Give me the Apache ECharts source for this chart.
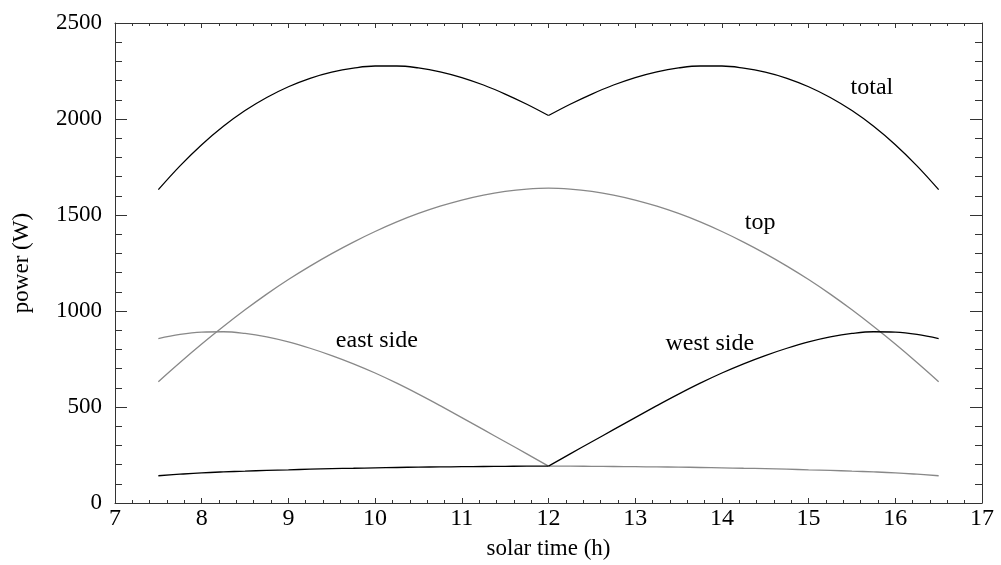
<!DOCTYPE html>
<html>
<head>
<meta charset="utf-8">
<script src="https://cdn.jsdelivr.net/npm/echarts@6/dist/echarts.min.js"></script>
<style>
	html, body { margin: 0; padding: 0; background: #fff; }
	#main { width: 1001px; height: 565px; }
</style>
</head>
<body>
<div id="main"></div>
<script>
// solar time (h)
var hours = [7.5, 7.75, 8, 8.25, 8.5, 8.75, 9, 9.25, 9.5, 9.75, 10, 10.25, 10.5, 10.75, 11, 11.25, 11.5, 11.75, 12,
	12.25, 12.5, 12.75, 13, 13.25, 13.5, 13.75, 14, 14.25, 14.5, 14.75, 15, 15.25, 15.5, 15.75, 16, 16.25, 16.5];

// power (W)
var totalPower = [1632, 1756, 1866, 1962, 2044, 2112, 2168, 2212, 2244, 2265, 2276, 2276, 2266, 2246, 2216, 2177, 2130, 2077, 2018,
	2077, 2130, 2177, 2216, 2246, 2266, 2276, 2276, 2265, 2244, 2212, 2168, 2112, 2044, 1962, 1866, 1756, 1632];
var topPower = [632, 732, 828, 919, 1006, 1088, 1164, 1234, 1299, 1359, 1414, 1464, 1508, 1546, 1578, 1604, 1623, 1635, 1640,
	1635, 1623, 1604, 1578, 1546, 1508, 1464, 1414, 1359, 1299, 1234, 1164, 1088, 1006, 919, 828, 732, 632];
var eastPower = [856, 878, 890, 892, 883, 865, 839, 806, 768, 725, 677, 624, 567, 507, 445, 382, 319, 256, 192,
	192, 191, 190, 189, 188, 187, 185, 183, 181, 179, 176, 173, 170, 166, 162, 157, 150, 142];
var westPower = [142, 150, 157, 162, 166, 170, 173, 176, 179, 181, 183, 185, 187, 188, 189, 190, 191, 192, 192,
	256, 319, 382, 445, 507, 567, 624, 677, 725, 768, 806, 839, 865, 883, 892, 890, 878, 856];

// curve labels
var labelNames = ['total', 'top', 'east side', 'west side'];
var labelX = [15.73, 14.44, 10.02, 13.86];
var labelY = [2161, 1458, 844, 828];

var xTicks = [7, 8, 9, 10, 11, 12, 13, 14, 15, 16, 17];
var yTicks = [0, 500, 1000, 1500, 2000, 2500];

// index of noon, where the side curves have a corner
var noon = hours.indexOf(12);

function pairs(xs, ys) {
	return xs.map(function (x, i) { return [x, ys[i]]; });
}

var font = 'Liberation Serif';
var axisColor = '#333';

function xAxisDef(pos, showLabel) {
	return {
		type: 'value',
		position: pos,
		min: xTicks[0],
		max: xTicks[xTicks.length - 1],
		interval: 1,
		name: showLabel ? 'solar time (h)' : '',
		nameLocation: 'middle',
		nameGap: 34,
		nameTextStyle: { fontFamily: font, fontSize: 23, color: '#000' },
		axisLine: { show: true, onZero: false, lineStyle: { color: axisColor, width: 1 } },
		axisTick: { show: true, inside: true, length: 5, lineStyle: { color: axisColor } },
		minorTick: { show: true, splitNumber: 5, length: 3, lineStyle: { color: axisColor } },
		axisLabel: { show: showLabel, fontFamily: font, fontSize: 24, color: '#000', margin: 4 },
		splitLine: { show: false }
	};
}

function yAxisDef(pos, showLabel) {
	return {
		type: 'value',
		position: pos,
		min: yTicks[0],
		max: yTicks[yTicks.length - 1],
		interval: 500,
		name: showLabel ? 'power (W)' : '',
		nameLocation: 'middle',
		nameGap: 82,
		nameTextStyle: { fontFamily: font, fontSize: 23, color: '#000' },
		axisLine: { show: true, onZero: false, lineStyle: { color: axisColor, width: 1 } },
		axisTick: { show: true, inside: true, length: 12, lineStyle: { color: axisColor } },
		minorTick: { show: true, splitNumber: 5, length: 7, lineStyle: { color: axisColor } },
		axisLabel: {
			show: showLabel, fontFamily: font, fontSize: 23, color: '#000', margin: 13,
			formatter: function (v) { return String(v); }
		},
		splitLine: { show: false }
	};
}

// one smooth piece of a curve, from index a to index b
function piece(name, ys, a, b, color) {
	return {
		name: name,
		type: 'line',
		data: pairs(hours.slice(a, b + 1), ys.slice(a, b + 1)),
		showSymbol: false,
		symbol: 'none',
		smooth: 0.4,
		lineStyle: { color: color, width: 1.3 },
		itemStyle: { color: color }
	};
}

var last = hours.length - 1;

var myChart = echarts.init(document.getElementById('main'));

var option = {
	animation: false,
	backgroundColor: '#fff',
	grid: { left: 115, right: 19, top: 23, bottom: 62 },
	xAxis: [xAxisDef('bottom', true), xAxisDef('top', false)],
	yAxis: [yAxisDef('left', true), yAxisDef('right', false)],
	series: [
		piece('top', topPower, 0, last, '#888'),
		piece('east side', eastPower, 0, noon, '#888'),
		piece('east side', eastPower, noon, last, '#888'),
		piece('west side', westPower, 0, noon, '#000'),
		piece('west side', westPower, noon, last, '#000'),
		piece('total', totalPower, 0, noon, '#000'),
		piece('total', totalPower, noon, last, '#000'),
		{
			type: 'scatter',
			symbolSize: 1,
			itemStyle: { color: 'rgba(0,0,0,0)', opacity: 1 },
			data: labelNames.map(function (n, i) { return { name: n, value: [labelX[i], labelY[i]] }; }),
			label: {
				show: true,
				position: 'inside',
				formatter: '{b}',
				fontFamily: font,
				fontSize: 24,
				color: '#000',
				opacity: 1
			}
		}
	]
};

myChart.setOption(option);
</script>
</body>
</html>
